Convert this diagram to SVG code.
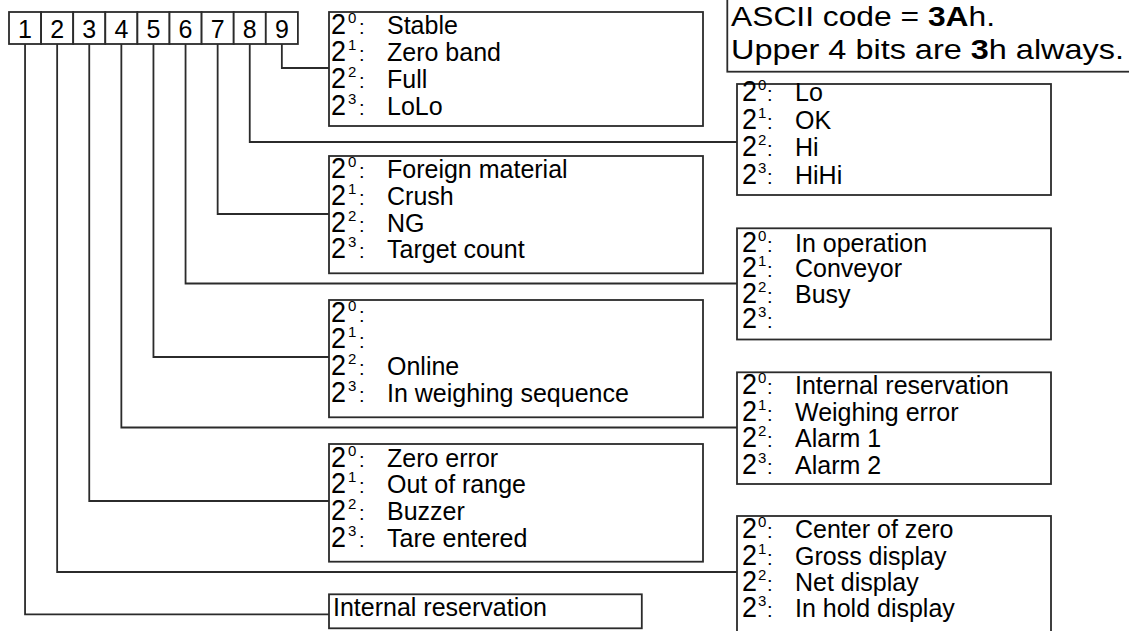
<svg xmlns="http://www.w3.org/2000/svg" width="1129" height="631" viewBox="0 0 1129 631">
<style>
.bx{fill:#fff;stroke:#2b2b2b;stroke-width:1.8}
.cn{fill:none;stroke:#2b2b2b;stroke-width:1.8}
text{font-family:"Liberation Sans",Arial,sans-serif;fill:#000}
.dg{font-size:25px;text-anchor:middle}
.tw{font-size:30px}
.sp{font-size:15px}
.co{font-size:20px}
.lb{font-size:25px}
.nt{font-size:27.5px}
.b{font-weight:bold}
</style>
<rect width="1129" height="631" fill="#fff"/>

<g id="connectors">
<polyline class="cn" points="281.85,44 281.85,68 329,68"/>
<polyline class="cn" points="249.75,44 249.75,142 737,142"/>
<polyline class="cn" points="217.65,44 217.65,214 329,214"/>
<polyline class="cn" points="185.55,44 185.55,283.5 737,283.5"/>
<polyline class="cn" points="153.45,44 153.45,357 329,357"/>
<polyline class="cn" points="121.35,44 121.35,427.5 737,427.5"/>
<polyline class="cn" points="89.25,44 89.25,501 329,501"/>
<polyline class="cn" points="57.15,44 57.15,572 737,572"/>
<polyline class="cn" points="25.05,44 25.05,614.3 329,614.3"/>
</g>

<g id="register">
<rect class="bx" x="9" y="12" width="32.1" height="32"/>
<rect class="bx" x="41.1" y="12" width="32.1" height="32"/>
<rect class="bx" x="73.2" y="12" width="32.1" height="32"/>
<rect class="bx" x="105.3" y="12" width="32.1" height="32"/>
<rect class="bx" x="137.4" y="12" width="32.1" height="32"/>
<rect class="bx" x="169.5" y="12" width="32.1" height="32"/>
<rect class="bx" x="201.6" y="12" width="32.1" height="32"/>
<rect class="bx" x="233.7" y="12" width="32.1" height="32"/>
<rect class="bx" x="265.8" y="12" width="32.1" height="32"/>
<text class="dg" x="25.05" y="37.5">1</text>
<text class="dg" x="57.15" y="37.5">2</text>
<text class="dg" x="89.25" y="37.5">3</text>
<text class="dg" x="121.35" y="37.5">4</text>
<text class="dg" x="153.45" y="37.5">5</text>
<text class="dg" x="185.55" y="37.5">6</text>
<text class="dg" x="217.65" y="37.5">7</text>
<text class="dg" x="249.75" y="37.5">8</text>
<text class="dg" x="281.85" y="37.5">9</text>
</g>

<g id="note">
<rect class="bx" x="727.3" y="-10" width="420" height="81.7"/>
<text class="nt" x="731" y="26" textLength="264" lengthAdjust="spacingAndGlyphs">ASCII code = <tspan class="b">3A</tspan>h.</text>
<text class="nt" x="731" y="58.7" textLength="393" lengthAdjust="spacingAndGlyphs">Upper 4 bits are <tspan class="b">3</tspan>h always.</text>
</g>

<g id="box9">
<rect class="bx" x="329" y="12" width="374" height="114"/>
<text class="tw" x="331" y="34" textLength="15" lengthAdjust="spacingAndGlyphs">2</text><text class="sp" x="348" y="23">0</text><text class="co" x="359" y="34">:</text><text class="lb" x="387" y="34">Stable</text>
<text class="tw" x="331" y="61" textLength="15" lengthAdjust="spacingAndGlyphs">2</text><text class="sp" x="348" y="50">1</text><text class="co" x="359" y="61">:</text><text class="lb" x="387" y="61">Zero band</text>
<text class="tw" x="331" y="88" textLength="15" lengthAdjust="spacingAndGlyphs">2</text><text class="sp" x="348" y="77">2</text><text class="co" x="359" y="88">:</text><text class="lb" x="387" y="88">Full</text>
<text class="tw" x="331" y="115" textLength="15" lengthAdjust="spacingAndGlyphs">2</text><text class="sp" x="348" y="104">3</text><text class="co" x="359" y="115">:</text><text class="lb" x="387" y="115">LoLo</text>
</g>

<g id="box8">
<rect class="bx" x="737" y="84" width="314" height="111"/>
<text class="tw" x="742" y="101" textLength="15" lengthAdjust="spacingAndGlyphs">2</text><text class="sp" x="758" y="90">0</text><text class="co" x="767" y="101">:</text><text class="lb" x="795" y="101">Lo</text>
<text class="tw" x="742" y="128.7" textLength="15" lengthAdjust="spacingAndGlyphs">2</text><text class="sp" x="758" y="117.7">1</text><text class="co" x="767" y="128.7">:</text><text class="lb" x="795" y="128.7">OK</text>
<text class="tw" x="742" y="156.3" textLength="15" lengthAdjust="spacingAndGlyphs">2</text><text class="sp" x="758" y="145.3">2</text><text class="co" x="767" y="156.3">:</text><text class="lb" x="795" y="156.3">Hi</text>
<text class="tw" x="742" y="184" textLength="15" lengthAdjust="spacingAndGlyphs">2</text><text class="sp" x="758" y="173">3</text><text class="co" x="767" y="184">:</text><text class="lb" x="795" y="184">HiHi</text>
</g>

<g id="box7">
<rect class="bx" x="329" y="156" width="374" height="117.3"/>
<text class="tw" x="331" y="178.3" textLength="15" lengthAdjust="spacingAndGlyphs">2</text><text class="sp" x="348" y="167.3">0</text><text class="co" x="359" y="178.3">:</text><text class="lb" x="387" y="178.3">Foreign material</text>
<text class="tw" x="331" y="205" textLength="15" lengthAdjust="spacingAndGlyphs">2</text><text class="sp" x="348" y="194">1</text><text class="co" x="359" y="205">:</text><text class="lb" x="387" y="205">Crush</text>
<text class="tw" x="331" y="231.7" textLength="15" lengthAdjust="spacingAndGlyphs">2</text><text class="sp" x="348" y="220.7">2</text><text class="co" x="359" y="231.7">:</text><text class="lb" x="387" y="231.7">NG</text>
<text class="tw" x="331" y="258.3" textLength="15" lengthAdjust="spacingAndGlyphs">2</text><text class="sp" x="348" y="247.3">3</text><text class="co" x="359" y="258.3">:</text><text class="lb" x="387" y="258.3">Target count</text>
</g>

<g id="box6">
<rect class="bx" x="737" y="228.3" width="314" height="111.2"/>
<text class="tw" x="742" y="251.5" textLength="15" lengthAdjust="spacingAndGlyphs">2</text><text class="sp" x="758" y="240.5">0</text><text class="co" x="767" y="251.5">:</text><text class="lb" x="795" y="251.5">In operation</text>
<text class="tw" x="742" y="277.1" textLength="15" lengthAdjust="spacingAndGlyphs">2</text><text class="sp" x="758" y="266.1">1</text><text class="co" x="767" y="277.1">:</text><text class="lb" x="795" y="277.1">Conveyor</text>
<text class="tw" x="742" y="302.7" textLength="15" lengthAdjust="spacingAndGlyphs">2</text><text class="sp" x="758" y="291.7">2</text><text class="co" x="767" y="302.7">:</text><text class="lb" x="795" y="302.7">Busy</text>
<text class="tw" x="742" y="328.3" textLength="15" lengthAdjust="spacingAndGlyphs">2</text><text class="sp" x="758" y="317.3">3</text><text class="co" x="767" y="328.3">:</text>
</g>

<g id="box5">
<rect class="bx" x="329" y="300" width="374" height="117.3"/>
<text class="tw" x="331" y="321.6" textLength="15" lengthAdjust="spacingAndGlyphs">2</text><text class="sp" x="348" y="310.6">0</text><text class="co" x="359" y="321.6">:</text>
<text class="tw" x="331" y="348.3" textLength="15" lengthAdjust="spacingAndGlyphs">2</text><text class="sp" x="348" y="337.3">1</text><text class="co" x="359" y="348.3">:</text>
<text class="tw" x="331" y="375" textLength="15" lengthAdjust="spacingAndGlyphs">2</text><text class="sp" x="348" y="364">2</text><text class="co" x="359" y="375">:</text><text class="lb" x="387" y="375">Online</text>
<text class="tw" x="331" y="401.7" textLength="15" lengthAdjust="spacingAndGlyphs">2</text><text class="sp" x="348" y="390.7">3</text><text class="co" x="359" y="401.7">:</text><text class="lb" x="387" y="401.7">In weighing sequence</text>
</g>

<g id="box4">
<rect class="bx" x="737" y="372.3" width="314" height="111.7"/>
<text class="tw" x="742" y="394" textLength="15" lengthAdjust="spacingAndGlyphs">2</text><text class="sp" x="758" y="383">0</text><text class="co" x="767" y="394">:</text><text class="lb" x="795" y="394">Internal reservation</text>
<text class="tw" x="742" y="420.7" textLength="15" lengthAdjust="spacingAndGlyphs">2</text><text class="sp" x="758" y="409.7">1</text><text class="co" x="767" y="420.7">:</text><text class="lb" x="795" y="420.7">Weighing error</text>
<text class="tw" x="742" y="447.4" textLength="15" lengthAdjust="spacingAndGlyphs">2</text><text class="sp" x="758" y="436.4">2</text><text class="co" x="767" y="447.4">:</text><text class="lb" x="795" y="447.4">Alarm 1</text>
<text class="tw" x="742" y="474" textLength="15" lengthAdjust="spacingAndGlyphs">2</text><text class="sp" x="758" y="463">3</text><text class="co" x="767" y="474">:</text><text class="lb" x="795" y="474">Alarm 2</text>
</g>

<g id="box3">
<rect class="bx" x="329" y="444" width="374" height="117.7"/>
<text class="tw" x="331" y="466.7" textLength="15" lengthAdjust="spacingAndGlyphs">2</text><text class="sp" x="348" y="455.7">0</text><text class="co" x="359" y="466.7">:</text><text class="lb" x="387" y="466.7">Zero error</text>
<text class="tw" x="331" y="493.4" textLength="15" lengthAdjust="spacingAndGlyphs">2</text><text class="sp" x="348" y="482.4">1</text><text class="co" x="359" y="493.4">:</text><text class="lb" x="387" y="493.4">Out of range</text>
<text class="tw" x="331" y="520" textLength="15" lengthAdjust="spacingAndGlyphs">2</text><text class="sp" x="348" y="509">2</text><text class="co" x="359" y="520">:</text><text class="lb" x="387" y="520">Buzzer</text>
<text class="tw" x="331" y="546.7" textLength="15" lengthAdjust="spacingAndGlyphs">2</text><text class="sp" x="348" y="535.7">3</text><text class="co" x="359" y="546.7">:</text><text class="lb" x="387" y="546.7">Tare entered</text>
</g>

<g id="box2">
<rect class="bx" x="737" y="516" width="314" height="130"/>
<text class="tw" x="742" y="538.3" textLength="15" lengthAdjust="spacingAndGlyphs">2</text><text class="sp" x="758" y="527.3">0</text><text class="co" x="767" y="538.3">:</text><text class="lb" x="795" y="538.3">Center of zero</text>
<text class="tw" x="742" y="564.5" textLength="15" lengthAdjust="spacingAndGlyphs">2</text><text class="sp" x="758" y="553.5">1</text><text class="co" x="767" y="564.5">:</text><text class="lb" x="795" y="564.5">Gross display</text>
<text class="tw" x="742" y="590.7" textLength="15" lengthAdjust="spacingAndGlyphs">2</text><text class="sp" x="758" y="579.7">2</text><text class="co" x="767" y="590.7">:</text><text class="lb" x="795" y="590.7">Net display</text>
<text class="tw" x="742" y="616.9" textLength="15" lengthAdjust="spacingAndGlyphs">2</text><text class="sp" x="758" y="605.9">3</text><text class="co" x="767" y="616.9">:</text><text class="lb" x="795" y="616.9">In hold display</text>
</g>

<g id="box1">
<rect class="bx" x="329" y="594.3" width="312.8" height="34"/>
<text class="lb" x="333" y="615.7">Internal reservation</text>
</g>
</svg>
